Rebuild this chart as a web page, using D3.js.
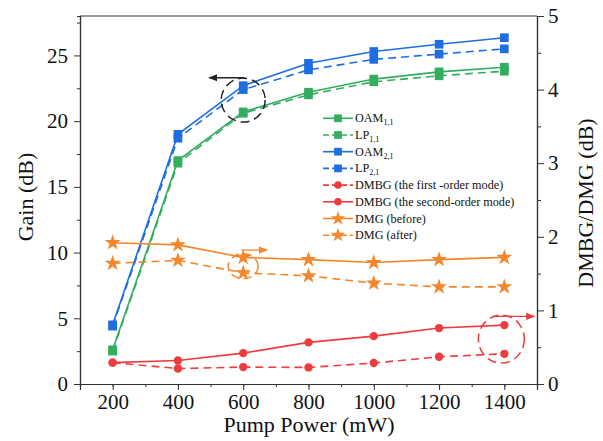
<!DOCTYPE html>
<html><head><meta charset="utf-8">
<script src="https://cdn.jsdelivr.net/npm/d3@7"></script>
<style>body{margin:0;background:#fff}svg{display:block}</style>
</head><body>
<script>
const pumpPower = [200, 400, 600, 800, 1000, 1200, 1400];
const oam11 = [2.6, 17.0, 20.7, 22.2, 23.2, 23.75, 24.1];
const lp11  = [2.5, 16.8, 20.6, 22.0, 23.0, 23.45, 23.8];
const oam21 = [4.5, 19.0, 22.7, 24.4, 25.3, 25.85, 26.35];
const lp21  = [4.4, 18.7, 22.4, 23.9, 24.7, 25.1, 25.5];
const dmbgFirst  = [0.29, 0.21, 0.23, 0.225, 0.285, 0.37, 0.41];
const dmbgSecond = [0.29, 0.32, 0.42, 0.565, 0.65, 0.76, 0.80];
const dmgBefore  = [1.92, 1.89, 1.72, 1.69, 1.65, 1.69, 1.72];
const dmgAfter   = [1.64, 1.68, 1.51, 1.47, 1.37, 1.32, 1.32];
const xTicks = [200, 400, 600, 800, 1000, 1200, 1400];
const leftTicks = [0, 5, 10, 15, 20, 25];
const rightTicks = [0, 1, 2, 3, 4, 5];

const FONT = "Liberation Serif, Times New Roman, DejaVu Serif, serif";
const W = 603, H = 441;
const m = {l: 80, r: 66, t: 16, b: 57};
const svg = d3.select("body").append("svg").attr("width", W).attr("height", H)
  .attr("font-family", FONT);
const x = d3.scaleLinear().domain([100, 1500]).range([m.l, W - m.r]);
const yL = d3.scaleLinear().domain([0, 28]).range([H - m.b, m.t]);
const yR = d3.scaleLinear().domain([0, 5]).range([H - m.b, m.t]);

const C = {green: "#33ad5e", blue: "#1f6ee0", red: "#ee3b3e", orange: "#f5862b"};

svg.append("line").attr("x1", x.range()[0]).attr("x2", x.range()[1]).attr("y1", m.t).attr("y2", m.t)
  .attr("stroke", "#333").attr("stroke-width", 1.2);

function styleAxis(g){
  g.attr("font-family", FONT);
  g.selectAll(".domain").attr("stroke", "#333").attr("stroke-width", 1.2);
  g.selectAll(".tick line").attr("stroke", "#333");
  g.selectAll(".tick text").attr("font-size", 21).attr("fill", "#111").attr("font-family", FONT);
}
const gx = svg.append("g").attr("transform", `translate(0,${H - m.b})`);
gx.call(d3.axisBottom(x).tickValues(d3.range(200, 1500, 100)).tickSize(3).tickFormat(""));
const gxm = svg.append("g").attr("transform", `translate(0,${H - m.b})`);
gxm.call(d3.axisBottom(x).tickValues(xTicks).tickSize(6).tickPadding(4).tickFormat(d3.format("d")));
styleAxis(gx); styleAxis(gxm);

const gl = svg.append("g").attr("transform", `translate(${m.l},0)`);
gl.call(d3.axisLeft(yL).tickValues([2.5, 7.5, 12.5, 17.5, 22.5, 27.5]).tickSize(3).tickFormat(""));
const glm = svg.append("g").attr("transform", `translate(${m.l},0)`);
glm.call(d3.axisLeft(yL).tickValues(leftTicks).tickSize(6).tickPadding(6).tickSizeOuter(0).tickFormat(d3.format("d")));
styleAxis(gl); styleAxis(glm);

const gr = svg.append("g").attr("transform", `translate(${W - m.r},0)`);
gr.call(d3.axisRight(yR).tickValues([0.5, 1.5, 2.5, 3.5, 4.5]).tickSize(4).tickFormat(""));
const grm = svg.append("g").attr("transform", `translate(${W - m.r},0)`);
grm.call(d3.axisRight(yR).tickValues(rightTicks).tickSize(7).tickPadding(4).tickSizeOuter(0).tickFormat(d3.format("d")));
styleAxis(gr); styleAxis(grm);

svg.append("text").attr("transform", `translate(33,197) rotate(-90)`)
  .attr("text-anchor", "middle").attr("font-size", 22).attr("fill", "#111").text("Gain (dB)");
svg.append("text").attr("transform", `translate(593,203) rotate(-90)`)
  .attr("text-anchor", "middle").attr("font-size", 22).attr("fill", "#111").text("DMBG/DMG (dB)");
svg.append("text").attr("x", 309).attr("y", 432)
  .attr("text-anchor", "middle").attr("font-size", 22).attr("fill", "#111").text("Pump Power (mW)");

const series = [
  {name: "OAM", sub: "1,1", vals: oam11, y: yL, color: C.green, dash: null, sym: d3.symbolSquare, size: 75},
  {name: "LP", sub: "1,1", vals: lp11, y: yL, color: C.green, dash: "8,5", sym: d3.symbolSquare, size: 75},
  {name: "OAM", sub: "2,1", vals: oam21, y: yL, color: C.blue, dash: null, sym: d3.symbolSquare, size: 75},
  {name: "LP", sub: "2,1", vals: lp21, y: yL, color: C.blue, dash: "8,5", sym: d3.symbolSquare, size: 75},
  {name: "DMBG (the first -order mode)", vals: dmbgFirst, y: yR, color: C.red, dash: "8,5", sym: d3.symbolCircle, size: 55},
  {name: "DMBG (the second-order mode)", vals: dmbgSecond, y: yR, color: C.red, dash: null, sym: d3.symbolCircle, size: 55},
  {name: "DMG (before)", vals: dmgBefore, y: yR, color: C.orange, dash: null, sym: d3.symbolStar, size: 80},
  {name: "DMG (after)", vals: dmgAfter, y: yR, color: C.orange, dash: "8,5", sym: d3.symbolStar, size: 80}
];

const plot = svg.append("g");
series.forEach(s => {
  const line = d3.line().x((d, i) => x(pumpPower[i])).y(d => s.y(d));
  plot.append("path").datum(s.vals).attr("d", line).attr("fill", "none")
    .attr("stroke", s.color).attr("stroke-width", 1.6).attr("stroke-dasharray", s.dash);
  plot.selectAll(null).data(s.vals).enter().append("path")
    .attr("transform", (d, i) => `translate(${x(pumpPower[i])},${s.y(d)})`)
    .attr("d", d3.symbol().type(s.sym).size(s.size)).attr("fill", s.color);
});

const lg = svg.append("g").attr("transform", "translate(323,118.3)");
series.forEach((s, i) => {
  const g = lg.append("g").attr("transform", `translate(0,${i * 16.7})`);
  g.append("line").attr("x1", 0).attr("x2", 30).attr("stroke", s.color).attr("stroke-width", 1.6)
    .attr("stroke-dasharray", s.dash ? "6,3" : null);
  g.append("path").attr("transform", "translate(15,0)").attr("d", d3.symbol().type(s.sym).size(s.size * 0.8)).attr("fill", s.color);
  const t = g.append("text").attr("x", 32).attr("y", 4).attr("font-size", 12.2).attr("fill", "#111");
  t.append("tspan").text(s.name);
  if (s.sub) t.append("tspan").attr("font-size", 8).attr("dy", 3).text(s.sub);
});

const defs = svg.append("defs");
[["k", "#222"], ["o", C.orange], ["r", C.red]].forEach(([id, c]) => {
  defs.append("marker").attr("id", "ar" + id).attr("viewBox", "0 0 10 10").attr("refX", 9).attr("refY", 5)
    .attr("markerWidth", 7).attr("markerHeight", 7).attr("orient", "auto-start-reverse")
    .append("path").attr("d", "M0,1 L10,5 L0,9 Z").attr("fill", c);
});
const ann = svg.append("g").attr("fill", "none").attr("stroke-width", 1.5);
ann.append("ellipse").attr("cx", x(600)).attr("cy", yL(21.6)).attr("rx", 22).attr("ry", 22)
  .attr("stroke", "#222").attr("stroke-dasharray", "9,5");
ann.append("line").attr("x1", x(600) + 1).attr("x2", x(600) - 34).attr("y1", yL(23.3)).attr("y2", yL(23.3))
  .attr("stroke", "#222").attr("stroke-width", 1.3).attr("marker-end", "url(#ark)");
ann.append("ellipse").attr("cx", x(600)).attr("cy", yR(1.6)).attr("rx", 15).attr("ry", 12.5)
  .attr("stroke", C.orange).attr("stroke-dasharray", "8,5");
ann.append("line").attr("x1", x(600) - 2).attr("x2", x(600) + 24).attr("y1", yR(1.82)).attr("y2", yR(1.82))
  .attr("stroke", C.orange).attr("stroke-width", 1.3).attr("marker-end", "url(#aro)");
ann.append("ellipse").attr("cx", x(1400) - 3).attr("cy", yR(0.61)).attr("rx", 23).attr("ry", 24)
  .attr("stroke", C.red).attr("stroke-dasharray", "9,5");
ann.append("line").attr("x1", x(1400) - 12).attr("x2", x(1400) + 30).attr("y1", yR(0.92)).attr("y2", yR(0.92))
  .attr("stroke", C.red).attr("stroke-width", 1.3).attr("marker-end", "url(#arr)");
</script>
</body></html>
